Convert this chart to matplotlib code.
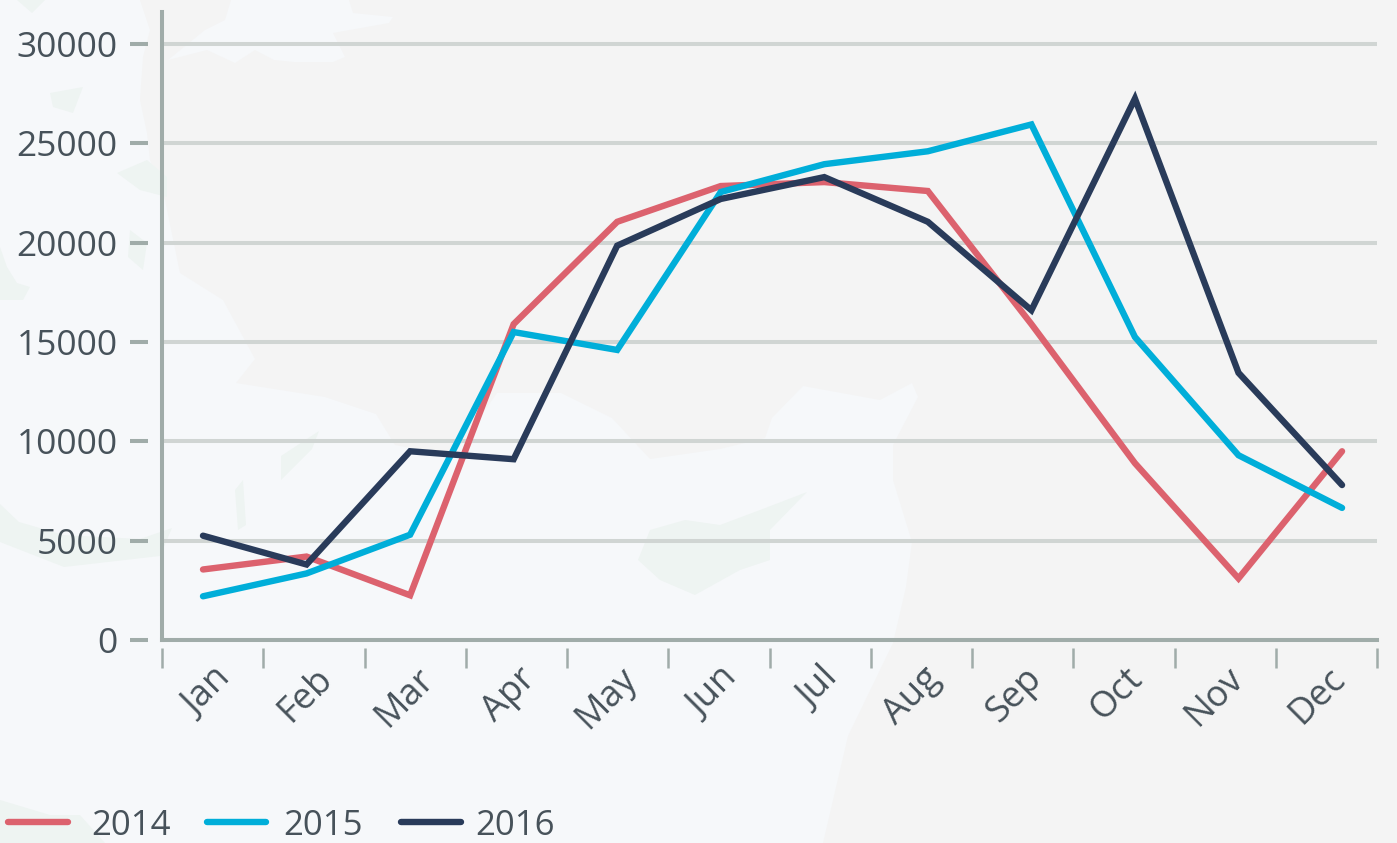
#!/usr/bin/env python3
import numpy as np
import matplotlib
matplotlib.use("Agg")
from matplotlib import pyplot as plt
from matplotlib.lines import Line2D
from matplotlib.patches import Polygon
from matplotlib.transforms import Affine2D

months = ["Jan", "Feb", "Mar", "Apr", "May", "Jun", "Jul", "Aug", "Sep", "Oct", "Nov", "Dec"]
y2014 = [3550, 4200, 2250, 15900, 21050, 22850, 23050, 22600, 15900, 8900, 3100, 9500]
y2015 = [2200, 3350, 5300, 15500, 14600, 22550, 23950, 24600, 25950, 15250, 9300, 6650]
y2016 = [5250, 3800, 9500, 9100, 19850, 22200, 23300, 21050, 16600, 27250, 13450, 7800]
yticks = [0, 5000, 10000, 15000, 20000, 25000, 30000]

W, H = 1397, 843
plt.rcParams["font.family"] = ["Open Sans", "DejaVu Sans"]
fig = plt.figure(figsize=(W / 100, H / 100), dpi=100, facecolor="#f6f8fa")

# faint map behind the chart, outlines in image pixels (y down)
land = [(140, 0), (231, 0), (225, 20), (205, 30), (168, 60), (207, 50), (235, 63), (255, 50),
        (274, 60), (294, 62), (333, 62), (345, 57), (333, 33), (389, 23), (393, 17), (353, 13),
        (349, 0), (1397, 0), (1397, 843), (823, 843), (848, 736), (893, 643), (906, 587),
        (912, 542), (893, 480), (893, 445), (918, 397), (912, 383), (880, 400), (803, 386),
        (772, 418), (765, 438), (720, 449), (650, 459), (612, 418), (561, 393), (497, 393),
        (453, 456), (395, 445), (376, 414), (325, 397), (236, 383), (255, 359), (223, 300),
        (180, 273), (165, 200), (150, 160), (147, 133), (140, 100), (143, 57), (150, 30)]
islands = [
    [(638, 560), (650, 530), (685, 520), (720, 525), (760, 510), (807, 492), (770, 530),
     (770, 560), (740, 570), (695, 595), (660, 580)],
    [(0, 800), (50, 815), (80, 815), (105, 843), (0, 843)],
    [(0, 504), (19, 522), (64, 535), (140, 539), (172, 528), (160, 556), (64, 567), (0, 542)],
    [(281, 456), (319, 431), (312, 449), (281, 480)],
    [(235, 490), (243, 480), (246, 525), (238, 530)],
    [(50, 93), (83, 87), (73, 113), (53, 107)],
    [(117, 173), (147, 160), (167, 177), (167, 197), (140, 190)],
    [(130, 230), (147, 243), (143, 270), (128, 257)],
    [(0, 247), (7, 267), (17, 283), (30, 287), (23, 300), (0, 300)],
    [(17, 0), (45, 0), (32, 13)],
]
to_fig = Affine2D().scale(1, -1).translate(0, H)
fig.add_artist(Polygon(land, closed=True, fc="#f4f4f4", ec="none", transform=to_fig, zorder=-2))
for isl in islands:
    fig.add_artist(Polygon(isl, closed=True, fc="#eef4f2", ec="none", transform=to_fig, zorder=-1))

# axes box in pixels: x 162-1377, y 640 (zero) up to 12
left, right, zero, top = 162, 1377, 640, 12
first_x, step_x = 203, 103.55   # the points do not sit on the tick spacing
ax = fig.add_axes([left / W, 1 - zero / H, (right - left) / W, (zero - top) / H])
ax.set_facecolor("none")
xlim = ((left - first_x) / step_x, (right - first_x) / step_x)
ax.set_xlim(xlim)
ax.set_ylim(0, (zero - top) / (zero - 44) * 30000)

grid = "#d0d5d3"
axcol = "#a0aca9"
text = "#47525a"
axw = right - left
axh = zero - top

ax.set_yticks(yticks)
ax.yaxis.grid(True, color=grid, lw=2.9)
ax.set_axisbelow(True)
ax.set_xticks([])
ax.tick_params(axis="y", length=0, labelsize=25.5, labelcolor=text, pad=32)
for s in ["top", "right"]:
    ax.spines[s].set_visible(False)
for s in ["left", "bottom"]:
    ax.spines[s].set_color(axcol)
    ax.spines[s].set_linewidth(2.9)

# tick marks stand off from the axis lines
for v in yticks:
    ax.plot([-32 / axw, -14 / axw], [v, v], transform=ax.get_yaxis_transform(),
            color=axcol, lw=2.9, clip_on=False, solid_capstyle="butt")
tick_x = np.linspace(xlim[0], xlim[1], len(months) + 1)
for t in tick_x:
    ax.plot([t, t], [-8 / axh, -28 / axh], transform=ax.get_xaxis_transform(),
            color=axcol, lw=1.8, clip_on=False, solid_capstyle="butt")

x = np.arange(len(months))
style = dict(lw=4.6, solid_joinstyle="miter", solid_capstyle="round")
ax.plot(x, y2014, color="#dc626e", **style)
ax.plot(x, y2015, color="#00aed9", **style)
ax.plot(x, y2016, color="#293b5a", **style)

tick_step = tick_x[1] - tick_x[0]
for i, m in enumerate(months):
    ax.annotate(m, (tick_x[i] + 0.51 * tick_step, 0), xycoords=ax.get_xaxis_transform(),
                xytext=(0, -15), textcoords="offset points",
                rotation=45, ha="right", va="top", rotation_mode="anchor",
                fontsize=26, color=text)

# legend entries are unevenly spaced in the picture, so placed one by one
legend_y = 822
entries = [("2014", "#dc626e", 8, 68, 91), ("2015", "#00aed9", 207, 266, 283),
           ("2016", "#293b5a", 401, 461, 475)]
for label, col, x0, x1, xt in entries:
    fig.add_artist(Line2D([x0, x1], [legend_y, legend_y], color=col, lw=4.6,
                          solid_capstyle="round", transform=to_fig))
    fig.text(xt / W, 1 - legend_y / H, label, fontsize=25, color=text, ha="left", va="center_baseline")

fig.savefig("out.png", dpi=100, facecolor=fig.get_facecolor())
